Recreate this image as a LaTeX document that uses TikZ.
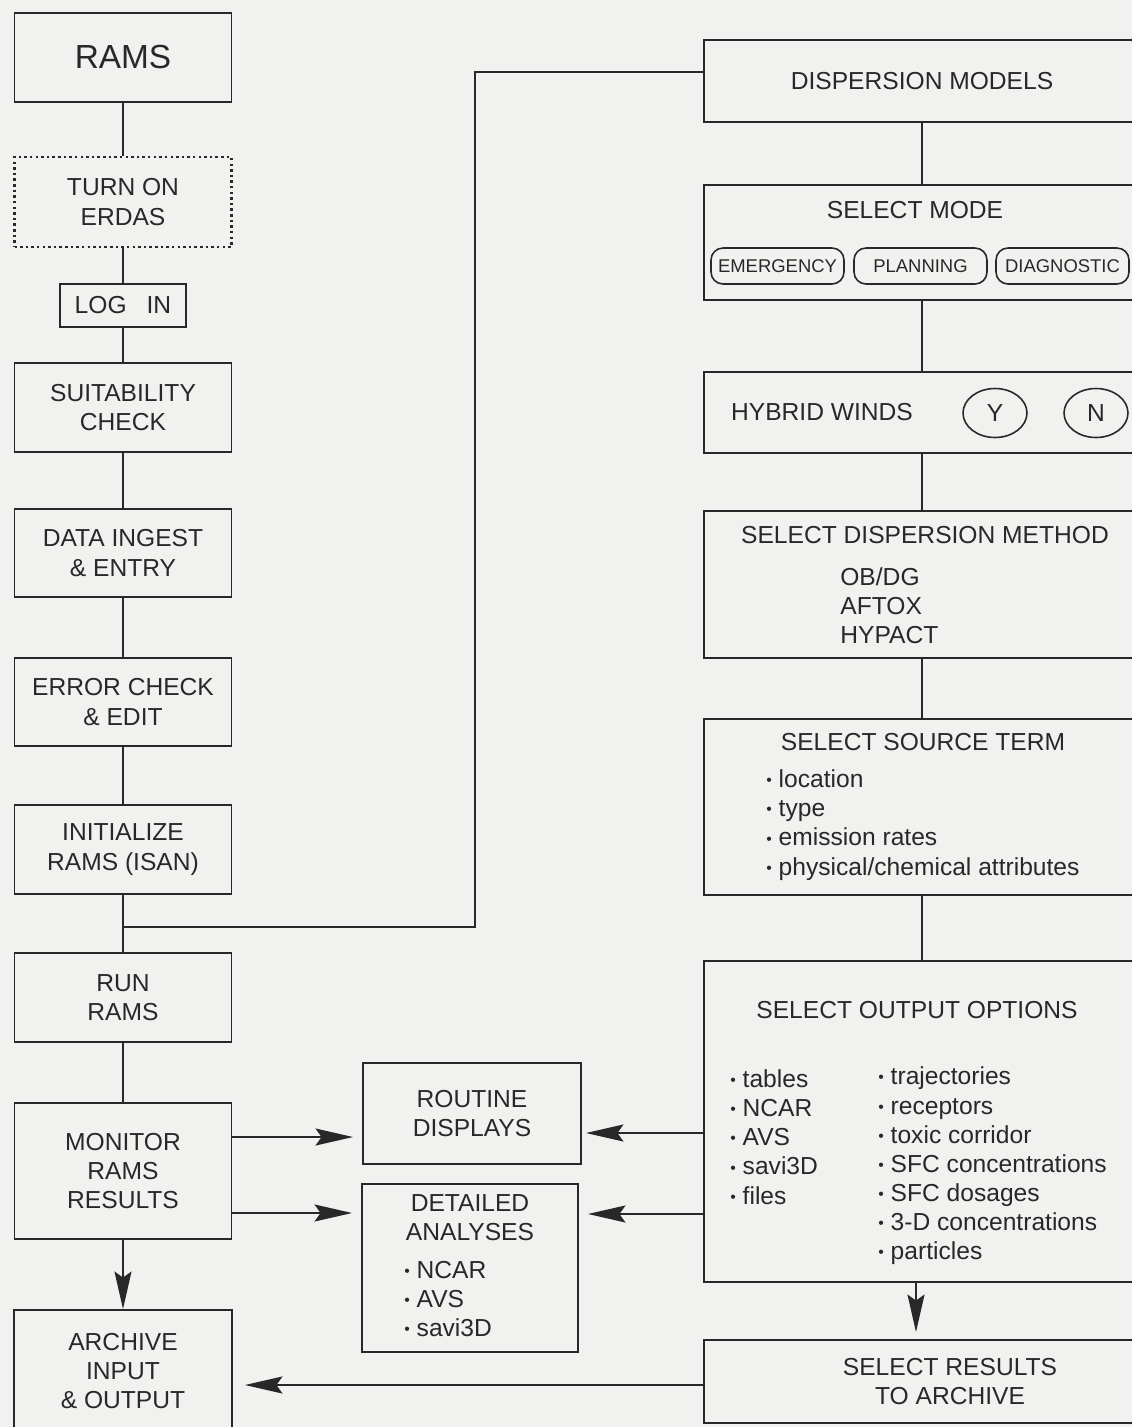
\documentclass[tikz,border=0pt]{standalone}
\usepackage{fontspec}
\setmainfont{Liberation Sans}
\usetikzlibrary{positioning, shapes, arrows.meta, calc}

\definecolor{paper}{RGB}{241,241,239}
\definecolor{ink}{RGB}{40,40,40}
\newcommand{\boxfont}{\fontsize{14}{16.6}\selectfont}
\newcommand{\pillfont}{\fontsize{10.5}{12}\selectfont}
\newcommand{\bul}{\raisebox{0.15ex}{\fontsize{9}{9}\selectfont\textbullet}\ }

\begin{document}
\begin{tikzpicture}[x=0.02cm, y=-0.02cm,
    box/.style={draw=ink, line width=1.1pt, align=center, font=\boxfont, text=ink, inner sep=2pt},
    lbl/.style={align=left, font=\boxfont, text=ink, inner sep=0pt},
    pill/.style={draw=ink, line width=0.9pt, rounded corners=0.24cm, minimum width=2.66cm, minimum height=0.72cm, font=\pillfont, text=ink},
    yesno/.style={draw=ink, line width=0.9pt, ellipse, minimum width=1.28cm, minimum height=0.98cm, font=\boxfont, text=ink},
    link/.style={draw=ink, line width=1.1pt},
    flow/.style={link, -{Stealth[length=0.75cm, width=0.34cm, inset=0.12cm]}}]
            \clip (0,0) rectangle (1132,1427);
            \fill[paper] (0,0) rectangle (1132,1427);

            % RAMS column
            \node (rams) at (123, 57.5) [box, minimum width=4.34cm, minimum height=1.78cm, font=\fontsize{19}{22}\selectfont] {RAMS};
            \node (erdas) at (123, 202) [box, minimum width=4.34cm, minimum height=1.8cm, line width=1.5pt, dash pattern=on 1.4pt off 1.8pt] {TURN ON\\ERDAS};
            \node (login) at (123, 305.5) [box, minimum width=2.52cm, minimum height=0.86cm] {LOG\hspace{0.4cm}IN};
            \node (suit) at (123, 407.5) [box, minimum width=4.34cm, minimum height=1.78cm] {SUITABILITY\\CHECK};
            \node (ingest) at (123, 553) [box, minimum width=4.34cm, minimum height=1.76cm] {DATA INGEST\\\& ENTRY};
            \node (error) at (123, 702) [box, minimum width=4.34cm, minimum height=1.76cm] {ERROR CHECK\\\& EDIT};
            \node (init) at (123, 849.5) [box, minimum width=4.34cm, minimum height=1.78cm] {INITIALIZE\\RAMS (ISAN)};
            \node (run) at (123, 997.5) [box, minimum width=4.34cm, minimum height=1.78cm] {RUN\\RAMS};
            \node (monitor) at (123, 1171) [box, minimum width=4.34cm, minimum height=2.72cm] {MONITOR\\RAMS\\RESULTS};
            \node (archive) at (123, 1371) [box, minimum width=4.36cm, minimum height=2.44cm] {ARCHIVE\\INPUT\\\& OUTPUT};

            % display boxes
            \node (routine) at (472, 1113.5) [box, minimum width=4.36cm, minimum height=2.02cm] {ROUTINE\\DISPLAYS};
            \node (detailed) at (470, 1268) [box, minimum width=4.32cm, minimum height=3.36cm] {};
            \node (dettitle) at (470, 1217.5) [lbl, align=center] {DETAILED\\ANALYSES};
            \node (detlist) at (404, 1299) [lbl, anchor=west] {\bul NCAR\\\bul AVS\\\bul savi3D};

            % dispersion column
            \node (models) at (922, 81) [box, minimum width=8.72cm, minimum height=1.64cm] {DISPERSION MODELS};

            \node (mode) at (922, 242.5) [box, minimum width=8.72cm, minimum height=2.3cm] {};
            \node (modetitle) at (915, 210) [lbl] {SELECT MODE};
            \node (emerg) at (777.5, 266) [pill] {EMERGENCY};
            \node (plan) at (920.5, 266) [pill] {PLANNING};
            \node (diag) at (1062.5, 266) [pill] {DIAGNOSTIC};

            \node (hybrid) at (922, 412.5) [box, minimum width=8.72cm, minimum height=1.62cm] {};
            \node (hybtitle) at (822, 412) [lbl] {HYBRID WINDS};
            \node (yes) at (995, 413) [yesno] {Y};
            \node (no) at (1096, 413) [yesno] {N};

            \node (method) at (922, 584.5) [box, minimum width=8.72cm, minimum height=2.94cm] {};
            \node (methtitle) at (925, 535) [lbl] {SELECT DISPERSION METHOD};
            \node (methlist) at (840, 606) [lbl, anchor=west] {OB/DG\\AFTOX\\HYPACT};

            \node (source) at (922, 807) [box, minimum width=8.72cm, minimum height=3.52cm] {};
            \node (srctitle) at (923, 742) [lbl] {SELECT SOURCE TERM};
            \node (srclist) at (766, 825) [lbl, anchor=west] {\bul location\\\bul type\\\bul emission rates\\\bul physical/chemical attributes};

            \node (output) at (922, 1121.5) [box, minimum width=8.72cm, minimum height=6.42cm] {};
            \node (outtitle) at (917, 1010) [lbl] {SELECT OUTPUT OPTIONS};
            \node (outlistA) at (730, 1137) [lbl, anchor=west] {\bul tables\\\bul NCAR\\\bul AVS\\\bul savi3D\\\bul files};
            \node (outlistB) at (878, 1166) [lbl, anchor=west] {\bul trajectories\\\bul receptors\\\bul toxic corridor\\\bul SFC concentrations\\\bul SFC dosages\\\bul 3-D concentrations\\\bul particles};

            \node (results) at (950, 1381.5) [box, minimum width=9.84cm, minimum height=1.66cm] {SELECT RESULTS\\TO ARCHIVE};

            % plain connectors
            \foreach \a/\b in {rams/erdas, erdas/login, login/suit, suit/ingest, ingest/error, error/init, init/run, run/monitor,
                               models/mode, mode/hybrid, hybrid/method, method/source, source/output}
                \draw[link] (\a) -- (\b);

            % branch to the dispersion models
            \coordinate (tap) at (123, 927);
            \coordinate (riser) at (475, 927);
            \draw[link] (tap) -- (riser) |- ([yshift=0.18cm]models.west);

            % arrows
            \draw[flow] (monitor) -- (archive);
            \draw[flow, shorten >=0.18cm] ([yshift=0.68cm]monitor.east) -- ([yshift=0.68cm]monitor.east -| routine.west);
            \draw[flow, shorten >=0.18cm] ([yshift=-0.84cm]monitor.east) -- ([yshift=-0.84cm]monitor.east -| detailed.west);
            \draw[flow, shorten >=0.08cm] ([yshift=-0.23cm]output.west) -- ([yshift=-0.23cm]output.west -| routine.east);
            \draw[flow, shorten >=0.18cm] ([yshift=-1.85cm]output.west) -- ([yshift=-1.85cm]output.west -| detailed.east);
            \draw[flow, shorten >=0.14cm] ([xshift=-0.12cm]output.south) -- ([xshift=-0.12cm]output.south |- results.north);
            \draw[flow, shorten >=0.24cm] ([yshift=-0.07cm]results.west) -- ([yshift=-0.07cm]results.west -| archive.east);

        \end{tikzpicture}
\end{document}
